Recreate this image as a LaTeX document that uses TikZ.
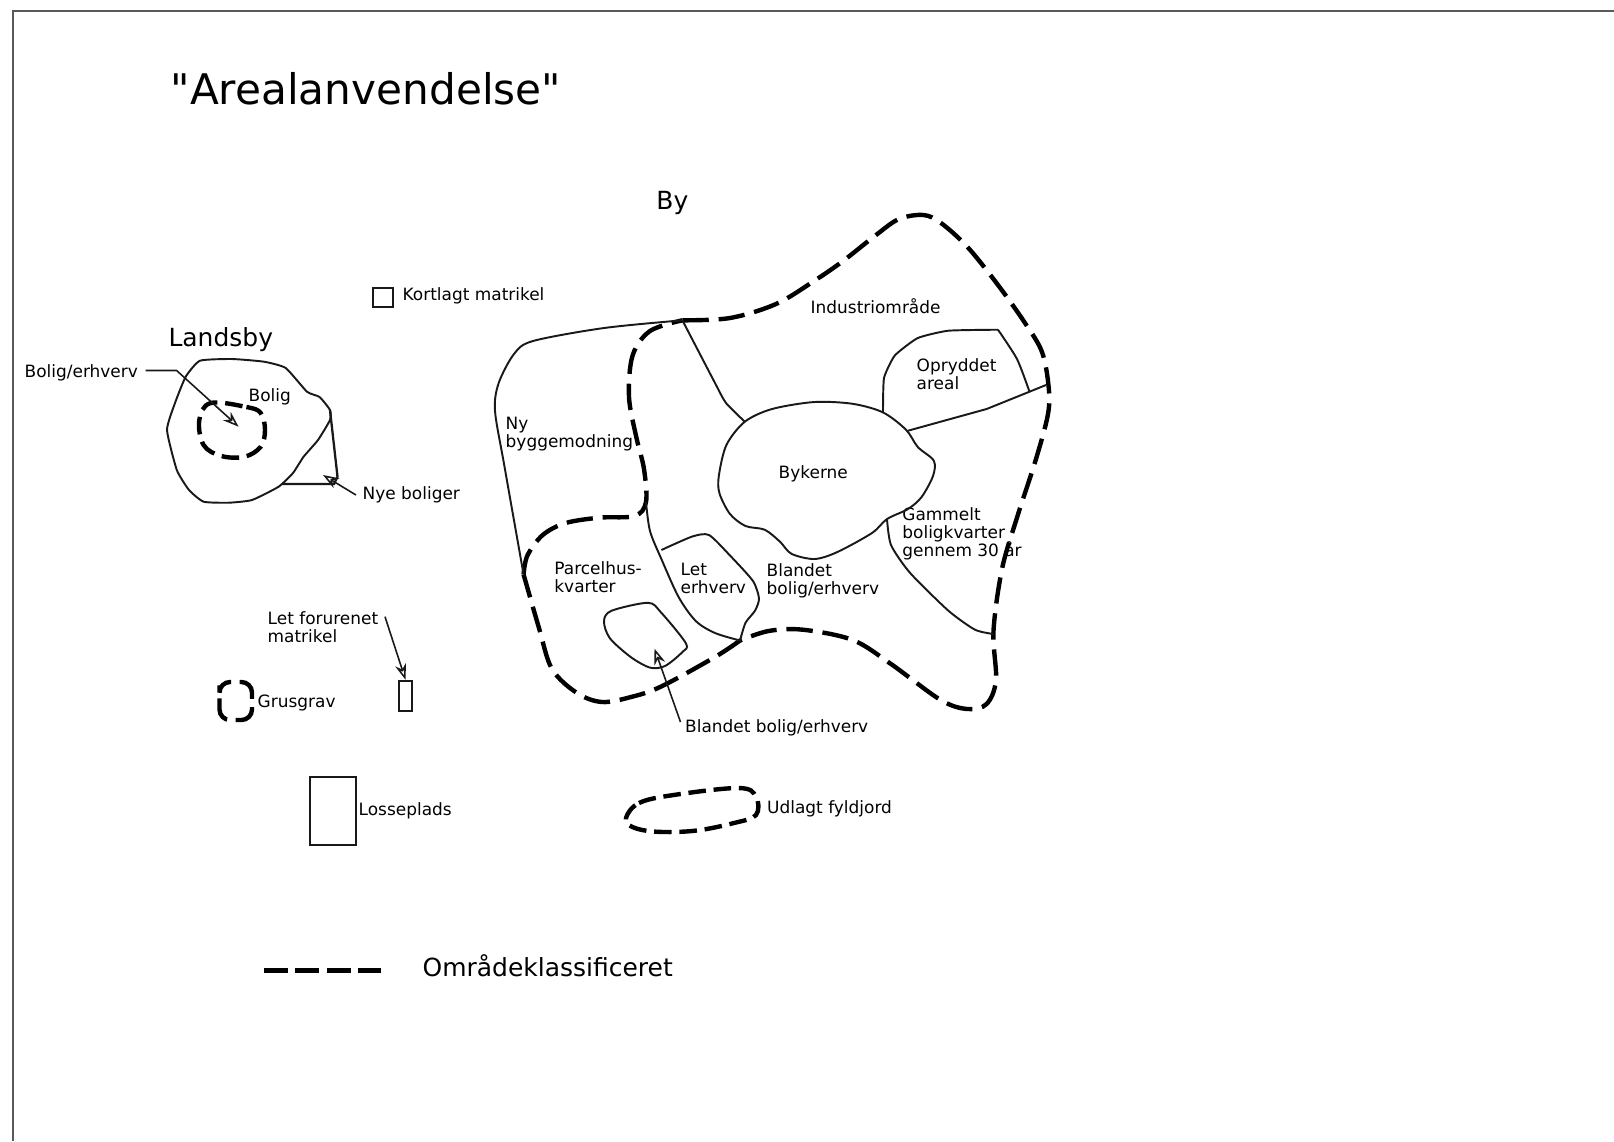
\documentclass[tikz,border=0pt]{standalone}
\usepackage{fontspec}
\setmainfont{DejaVu Sans}
\newfontfamily\plainfont{DejaVu Sans}
\usetikzlibrary{arrows.meta}
\tikzset{
	lbl/.style={anchor=west,align=left,inner sep=0pt,font=\fontsize{4.82}{5.1}\selectfont\lineskiplimit-5pt\relax},
	bigtxt/.style={anchor=west,inner sep=0pt,font=\fontsize{7.1}{8}\selectfont},
	thinline/.style={line width=.55pt,black!90},
	zoneline/.style={line width=1.25pt,black,dash pattern=on 7.5pt off 2.8pt},
	zonesmall/.style={line width=1.25pt,black,dash pattern=on 5pt off 2.2pt},
	boxnode/.style={draw,line width=.55pt,black!90,inner sep=0pt},
	pil/.style={line width=.45pt,black!90,-{Stealth[open,length=4.5pt,width=3.2pt]}}
}
\begin{document}
\begin{tikzpicture}[x=.01cm,y=-.01cm]
		\useasboundingbox(0,0)rectangle(1614,1141);
		\draw[line width=.5pt,black!65](12.7,1141)--(12.7,10.7)--(1614,10.7);
		
		\node[bigtxt,font=\plainfont\fontsize{12}{13}\selectfont](title)at(170,88.5){"Arealanvendelse"};
		\node[bigtxt](by)at(655.7,203){By};
		\node[bigtxt](landsby)at(167.8,339.6){Landsby};
		\node[bigtxt](legendtxt)at(422,966){Områdeklassificeret};
		
		\node[lbl](l1)at(24,372.5){Bolig/erhverv};
		\node[lbl](l2)at(248,397){Bolig};
		\node[lbl](l3)at(362,495){Nye boliger};
		\node[lbl](l4)at(402,296){Kortlagt matrikel};
		\node[lbl](l5)at(267,627){Let forurenet\\matrikel};
		\node[lbl](l6)at(257,703){Grusgrav};
		\node[lbl](l7)at(358,811){Losseplads};
		\node[lbl](l8)at(766.5,809){Udlagt fyldjord};
		\node[lbl](l9)at(684.5,727.7){Blandet bolig/erhverv};
		\node[lbl](r1)at(505,434){Ny\\byggemodning};
		\node[lbl](r2)at(553.7,577){Parcelhus-\\kvarter};
		\node[lbl](r3)at(680,578){Let\\erhverv};
		\node[lbl](r4)at(766,581){Blandet\\bolig/erhverv};
		\node[lbl](r5)at(778,473.4){Bykerne};
		\node[lbl](r6)at(901.7,533.5){Gammelt\\boligkvarter\\gennem 30 år};
		\node[lbl](r7)at(916,374){Opryddet\\areal};
		\node[lbl](r8)at(810,305.7){Industriområde};
		
		\node[boxnode,minimum width=.2cm,minimum height=.185cm](kort)at(383,297.5){};
		\node[boxnode,minimum width=.125cm,minimum height=.3cm](foru)at(405.5,695.7){};
		\node[boxnode,minimum width=.46cm,minimum height=.675cm](losse)at(333.2,811){};
		
		\coordinate(J)at(682.4,320.3);
		\coordinate(K)at(740,640.5);
		\coordinate(M)at(646,502);
		\coordinate(N)at(523.6,574.5);
		\coordinate(P)at(330,410);
		\coordinate(Q)at(883,412.4);
		\coordinate(R)at(1029.5,391.7);
		\coordinate(S)at(887,519);
		\coordinate(T)at(744.8,421.7);
		
		% by
		\draw[zoneline]plot[smooth,tension=.55]coordinates{(J)(730,318)(776,304)(814,281)(843,261)(876,235)(899,219)(923.5,215)(941,223)(967.5,247)(998,285)(1025,323)(1042,352)(1048.6,386.5)(1048,414)(1036,459)(1017,517.6)(1002,569)(993.5,631)(996,680)(986.6,704)(967.5,709)(940.7,700)(891,664)(852.7,640)(803,629.7)(768.5,631)(K)};
		\draw[zoneline]plot[smooth,tension=.55]coordinates{(K)(715,657)(661,686.6)(631,697)(602,702)(577,693)(552,669)(539,628)(N)};
		\draw[zoneline]plot[smooth,tension=.55]coordinates{(N)(527.4,555.5)(542.7,535)(565.7,523)(600,517.6)(634.6,516)(M)(644,469)(636.5,438)(629,397)(632.6,355.5)(650,331)(J)};
		\draw[thinline]plot[smooth,tension=.5]coordinates{(J)(604,328)(533,341)(514,354)(498.7,383)(495,410.7)(504.4,466)(N)};
		\draw[thinline]plot[smooth,tension=.35]coordinates{(J)(715,383)(726,403)(T)};
		\draw[thinline]plot[smooth cycle,tension=.5]coordinates{(T)(772,409)(814.4,402)(852.7,403.8)(Q)(906,429.7)(917.8,447)(933.8,460.7)(933,476)(921.6,497)(908,509)(S)(872,533)(837.4,552)(814.4,559)(791.5,553.8)(780,541.7)(764.7,529.7)(745.5,526)(730,514)(719.5,493.4)(718.8,476)(726.4,445)};
		\draw[thinline]plot[smooth,tension=.3]coordinates{(Q)(884,378)(894.8,355.5)(917.8,338)(948.4,330.7)(998,329.7)};
		\draw[thinline]plot[smooth,tension=.4]coordinates{(998,329.7)(1017,359)(R)};
		\draw[thinline](908,430.7)--(986.6,409)--(R)--(1046,385);
		\draw[thinline]plot[smooth,tension=.4]coordinates{(S)(891,545)(910,572.8)(948.4,610.7)(975,629.7)(993.5,634)};
		\draw[thinline]plot[smooth,tension=.5]coordinates{(M)(650,531)(661.4,559)(678.6,597)(695.8,621)(715,633)(K)};
		\draw[thinline]plot[smooth,tension=.4]coordinates{(661.4,550)(692,536.6)(709,535)(730,555.5)(753,581)(759,598.6)(755,610.7)(745.5,622.8)(K)};
		\draw[thinline]plot[smooth cycle,tension=.5]coordinates{(604,621)(611.6,610.7)(648,602.8)(661,612.4)(686,643.4)(682.4,652)(665,666)(650,667.6)(630.7,657)(609.7,638)};
		
		% landsby
		\draw[thinline]plot[smooth cycle,tension=.3]coordinates{(200,360.7)(232,359)(264,361.7)(285.7,368)(307,391.7)(319.6,397)(P)(330,420)(318,440)(303.6,456.7)(293,473)(278.6,486.7)(252,500)(228.6,502.7)(203.6,501.7)(189,490)(176.8,470)(167,430)(175,403)(185.7,376.7)};
		\draw[thinline,line width=.65pt](P)--(337.5,476.7)--(334,484)--(282,484);
		\draw[zonesmall]plot[smooth cycle,tension=.6]coordinates{(210.7,403)(246.4,407)(260.7,413)(265,430)(260.7,446.7)(244.6,456.7)(221.4,456)(203.6,445)(199.3,420)};
		\draw[zonesmall,dash pattern=on 7pt off 2.4pt,rounded corners=3pt](219.5,696)--(219.5,682)--(252,682)--(252,720)--(219.5,720)--cycle;
		\draw[zonesmall]plot[smooth cycle,tension=.6]coordinates{(626,818)(639,803)(673.6,795)(738.7,788)(756,796.7)(756,815)(734,823)(695,830.7)(656,831.7)(632.4,827)};
		
		% pile
		\coordinate(a1)at(238.6,426.7);
		\coordinate(a2)at(323,475);
		\coordinate(a3)at(654.5,648.6);
		\coordinate(a4)at(385,616.7);
		\coordinate(a5)at(680.5,722);
		\coordinate(a6)at(356,495);
		\draw[pil](l1.east)++(7,-2)--++(31,0)--(a1);
		\draw[pil](a6)--(a2);
		\draw[pil](a5)--(a3);
		\draw[pil](a4)--(foru.north);
		
		\draw[line width=1.45pt,dash pattern=on 6.8pt off 2.1pt](264,970.5)--(381,970.5);
	\end{tikzpicture}
\end{document}
